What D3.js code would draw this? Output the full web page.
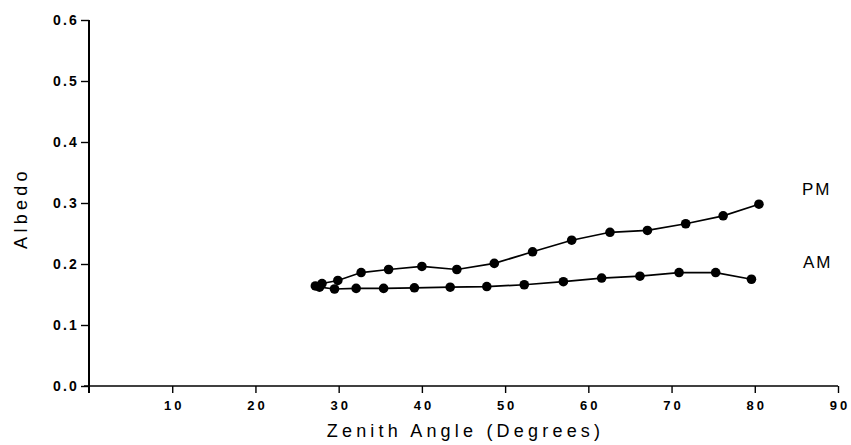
<!DOCTYPE html>
<html>
<head>
<meta charset="utf-8">
<script src="https://cdn.jsdelivr.net/npm/d3@7"></script>
<style>
  html, body { margin: 0; padding: 0; background: #fff; }
  svg { display: block; }
  text { font-family: "Liberation Sans", Arial, sans-serif; fill: #000; }
</style>
</head>
<body>
<svg id="chart" width="851" height="445"></svg>
<script>
// Data
const pmAngle  = [27.2, 28.0, 29.9, 32.7, 36.0, 40.0, 44.2, 48.7, 53.3, 58.0, 62.6, 67.1, 71.7, 76.2, 80.5];
const pmAlbedo = [0.164, 0.168, 0.173, 0.186, 0.191, 0.196, 0.191, 0.201, 0.220, 0.239, 0.252, 0.255, 0.266, 0.279, 0.298];
const amAngle  = [27.7, 29.5, 32.1, 35.4, 39.1, 43.4, 47.8, 52.3, 57.0, 61.6, 66.2, 70.9, 75.3, 79.6];
const amAlbedo = [0.162, 0.159, 0.160, 0.160, 0.161, 0.162, 0.163, 0.166, 0.171, 0.177, 0.180, 0.186, 0.186, 0.175];
const xTicks = [10, 20, 30, 40, 50, 60, 70, 80, 90];
const yTicks = [0.0, 0.1, 0.2, 0.3, 0.4, 0.5, 0.6];
const seriesNames = ["PM", "AM"];

const svg = d3.select("#chart");
const x = d3.scaleLinear().domain([0, 90]).range([89, 838]);
const y = d3.scaleLinear().domain([0, 0.6]).range([386, 20]);

// Y axis
const yAxis = d3.axisLeft(y).tickValues(yTicks).tickFormat(d3.format(".1f")).tickSize(8).tickPadding(4);
const gy = svg.append("g").attr("transform", `translate(${x(0)},0)`).call(yAxis);
gy.select(".domain").remove();
gy.selectAll(".tick line").attr("stroke", "#000").attr("stroke-width", 1.4);
gy.selectAll(".tick text")
  .style("font-size", "14px").style("font-weight", "bold").style("letter-spacing", "2.2px")
  .attr("dx", "2px");
svg.append("line").attr("x1", x(0)).attr("x2", x(0)).attr("y1", y(0.6)).attr("y2", y(0) + 7)
  .attr("stroke", "#000").attr("stroke-width", 2);

// X axis
const xAxis = d3.axisBottom(x).tickValues(xTicks).tickSize(7).tickPadding(8);
const gx = svg.append("g").attr("transform", `translate(0,${y(0)})`).call(xAxis);
gx.select(".domain").remove();
gx.selectAll(".tick line").attr("stroke", "#000").attr("stroke-width", 1.4);
gx.selectAll(".tick text")
  .style("font-size", "13px").style("font-weight", "bold").style("letter-spacing", "3px")
  .attr("dx", "1.5px");
svg.append("line").attr("x1", x(0) - 5).attr("x2", x(90)).attr("y1", y(0)).attr("y2", y(0))
  .attr("stroke", "#000").attr("stroke-width", 1.7);

// Axis titles
svg.append("text").attr("x", x(45) + 2).attr("y", 437).attr("text-anchor", "middle")
  .style("font-size", "18px").style("letter-spacing", "4.2px").text("Zenith Angle (Degrees)");
svg.append("text").attr("transform", `translate(27,${y(0.3) + 5}) rotate(-90)`).attr("text-anchor", "middle")
  .style("font-size", "18px").style("letter-spacing", "4.3px").text("Albedo");

// Series
const series = [
  { name: seriesNames[0], xs: pmAngle, ys: pmAlbedo },
  { name: seriesNames[1], xs: amAngle, ys: amAlbedo }
];
const line = d3.line().x(d => x(d[0])).y(d => y(d[1]));
series.forEach(s => {
  const pts = s.xs.map((v, i) => [v, s.ys[i]]);
  svg.append("path").datum(pts).attr("d", line)
    .attr("fill", "none").attr("stroke", "#000").attr("stroke-width", 1.7);
  svg.append("g").selectAll("circle").data(pts).join("circle")
    .attr("cx", d => x(d[0])).attr("cy", d => y(d[1])).attr("r", 4.8).attr("fill", "#000");
});

// Series labels
svg.append("text").attr("x", 802).attr("y", 195).style("font-size", "17px").style("letter-spacing", "2px").text(seriesNames[0]);
svg.append("text").attr("x", 803).attr("y", 268).style("font-size", "17px").style("letter-spacing", "2px").text(seriesNames[1]);
</script>
</body>
</html>
